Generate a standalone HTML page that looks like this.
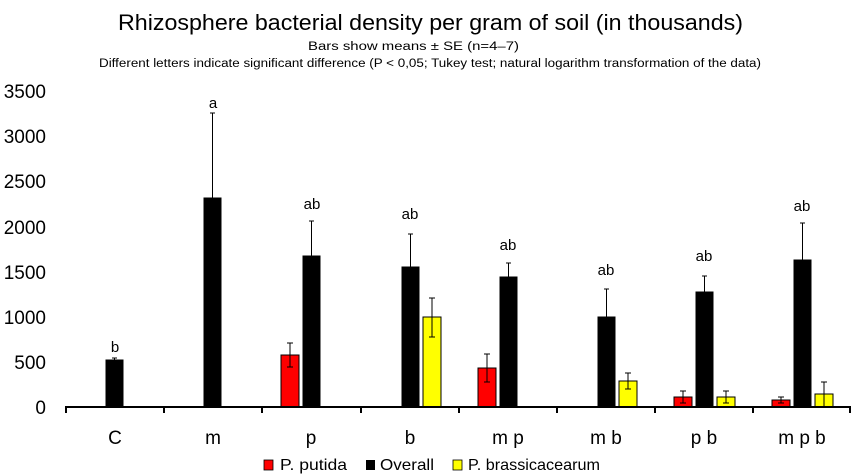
<!DOCTYPE html>
<html><head><meta charset="utf-8"><style>body{margin:0;background:#fff}svg{display:block}</style></head><body>
<svg width="858" height="476" xmlns="http://www.w3.org/2000/svg" font-family="Liberation Sans, sans-serif">
<text x="118" y="30" font-size="22" textLength="625" lengthAdjust="spacingAndGlyphs">Rhizosphere bacterial density per gram of soil (in thousands)</text>
<text x="308" y="50" font-size="11.5" textLength="211" lengthAdjust="spacingAndGlyphs">Bars show means ± SE (n=4–7)</text>
<text x="99" y="67" font-size="11.5" textLength="662" lengthAdjust="spacingAndGlyphs">Different letters indicate significant difference (P &lt; 0,05; Tukey test; natural logarithm transformation of the data)</text>
<g font-size="19" text-anchor="end">
<text x="46" y="98">3500</text><text x="46" y="143">3000</text><text x="46" y="188">2500</text><text x="46" y="234">2000</text><text x="46" y="279">1500</text><text x="46" y="324">1000</text><text x="46" y="369">500</text><text x="46" y="414">0</text>
</g>
<g stroke="#000" stroke-width="1">
<rect x="106" y="360" width="17" height="47" fill="#000"/><line x1="114.5" y1="358" x2="114.5" y2="360"/><line x1="112" y1="358" x2="117" y2="358"/>
<rect x="204" y="198" width="17" height="209" fill="#000"/><line x1="212.5" y1="113" x2="212.5" y2="198"/><line x1="210" y1="113" x2="215" y2="113"/>
<rect x="281" y="355" width="18" height="52" fill="#f00"/><line x1="290" y1="343" x2="290" y2="367"/><line x1="287" y1="343" x2="293" y2="343"/><line x1="287" y1="367" x2="293" y2="367"/>
<rect x="303" y="256" width="17" height="151" fill="#000"/><line x1="311.5" y1="221" x2="311.5" y2="256"/><line x1="309" y1="221" x2="314" y2="221"/>
<rect x="402" y="267" width="17" height="140" fill="#000"/><line x1="410.5" y1="234" x2="410.5" y2="267"/><line x1="408" y1="234" x2="413" y2="234"/>
<rect x="423" y="317" width="18" height="90" fill="#ff0"/><line x1="432" y1="298" x2="432" y2="337"/><line x1="429" y1="298" x2="435" y2="298"/><line x1="429" y1="337" x2="435" y2="337"/>
<rect x="478" y="368" width="18" height="39" fill="#f00"/><line x1="487" y1="354" x2="487" y2="382"/><line x1="484" y1="354" x2="490" y2="354"/><line x1="484" y1="382" x2="490" y2="382"/>
<rect x="500" y="277" width="17" height="130" fill="#000"/><line x1="508.5" y1="263" x2="508.5" y2="277"/><line x1="506" y1="263" x2="511" y2="263"/>
<rect x="598" y="317" width="17" height="90" fill="#000"/><line x1="606.5" y1="289" x2="606.5" y2="317"/><line x1="604" y1="289" x2="609" y2="289"/>
<rect x="619" y="381" width="18" height="26" fill="#ff0"/><line x1="628" y1="373" x2="628" y2="389"/><line x1="625" y1="373" x2="631" y2="373"/><line x1="625" y1="389" x2="631" y2="389"/>
<rect x="674" y="397" width="18" height="10" fill="#f00"/><line x1="683" y1="391" x2="683" y2="403"/><line x1="680" y1="391" x2="686" y2="391"/><line x1="680" y1="403" x2="686" y2="403"/>
<rect x="696" y="292" width="17" height="115" fill="#000"/><line x1="704.5" y1="276" x2="704.5" y2="292"/><line x1="702" y1="276" x2="707" y2="276"/>
<rect x="717" y="397" width="18" height="10" fill="#ff0"/><line x1="726" y1="391" x2="726" y2="403"/><line x1="723" y1="391" x2="729" y2="391"/><line x1="723" y1="403" x2="729" y2="403"/>
<rect x="772" y="400" width="18" height="7" fill="#f00"/><line x1="781" y1="397" x2="781" y2="403"/><line x1="778" y1="397" x2="784" y2="397"/><line x1="778" y1="403" x2="784" y2="403"/>
<rect x="794" y="260" width="17" height="147" fill="#000"/><line x1="802.5" y1="223" x2="802.5" y2="260"/><line x1="800" y1="223" x2="805" y2="223"/>
<rect x="815" y="394" width="18" height="13" fill="#ff0"/><line x1="824" y1="382" x2="824" y2="406"/><line x1="821" y1="382" x2="827" y2="382"/>
</g>
<g stroke="#000" stroke-width="2">
<line x1="66" y1="407" x2="851" y2="407"/>
<line x1="66" y1="406" x2="66" y2="413"/><line x1="164" y1="406" x2="164" y2="413"/><line x1="262" y1="406" x2="262" y2="413"/><line x1="361" y1="406" x2="361" y2="413"/><line x1="459" y1="406" x2="459" y2="413"/><line x1="557" y1="406" x2="557" y2="413"/><line x1="655" y1="406" x2="655" y2="413"/><line x1="753" y1="406" x2="753" y2="413"/><line x1="850" y1="406" x2="850" y2="413"/>
</g>
<g font-size="15" text-anchor="middle">
<text x="115" y="352">b</text><text x="213" y="108">a</text><text x="312" y="209">ab</text><text x="410" y="219">ab</text><text x="508" y="250">ab</text><text x="606" y="275">ab</text><text x="704" y="261">ab</text><text x="802" y="211">ab</text>
</g>
<g font-size="19" text-anchor="middle">
<text x="115" y="444">C</text><text x="213" y="444">m</text><text x="311" y="444">p</text><text x="410" y="444">b</text><text x="508" y="444">m p</text><text x="606" y="444">m b</text><text x="704" y="444">p b</text><text x="802" y="444">m p b</text>
</g>
<rect x="264" y="460" width="9" height="10" fill="#f00" stroke="#000" stroke-width="0.8"/>
<rect x="366" y="460" width="9" height="10" fill="#000"/>
<rect x="453" y="460" width="9" height="10" fill="#ff0" stroke="#000" stroke-width="0.8"/>
<g font-size="16">
<text x="280" y="470" textLength="67" lengthAdjust="spacingAndGlyphs">P. putida</text>
<text x="380" y="470" textLength="54" lengthAdjust="spacingAndGlyphs">Overall</text>
<text x="468" y="470" textLength="132" lengthAdjust="spacingAndGlyphs">P. brassicacearum</text>
</g>
</svg>
</body></html>
